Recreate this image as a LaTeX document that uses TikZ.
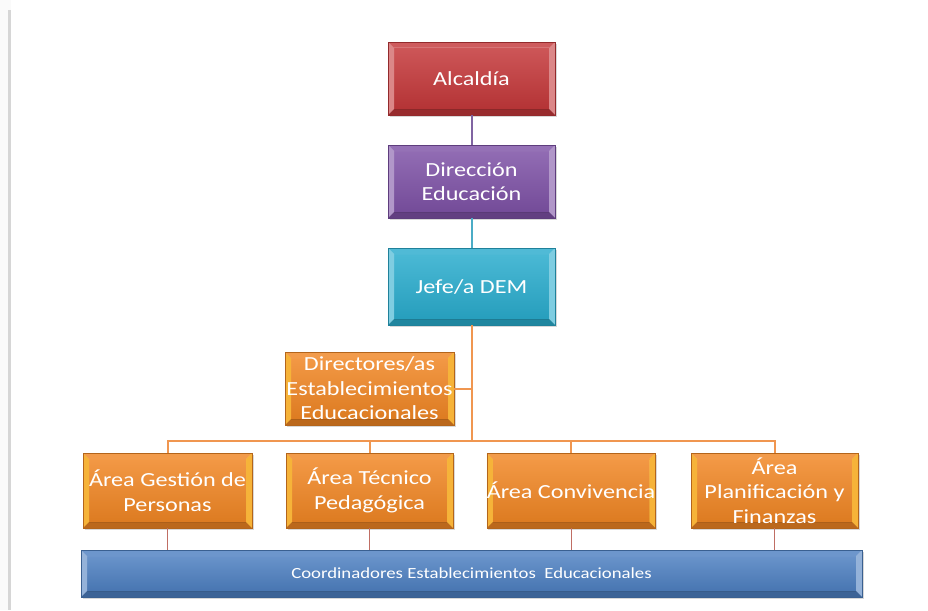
\documentclass[tikz,border=0pt]{standalone}
\usepackage{fontspec}
\setmainfont{Carlito}[FakeStretch=1.21]
\usetikzlibrary{shadows}
\definecolor{cRed}{RGB}{196,56,58}
\definecolor{cPurple}{RGB}{126,82,166}
\definecolor{cCyan}{RGB}{42,172,205}
\definecolor{cOrange}{RGB}{240,134,36}
\definecolor{cBlue}{RGB}{78,128,193}
\definecolor{cLinkPurple}{RGB}{128,100,162}
\definecolor{cLinkCyan}{RGB}{75,172,198}
\definecolor{cLinkOrange}{RGB}{240,150,80}
\definecolor{cLinkRed}{RGB}{192,110,100}
\pgfkeys{/tikz/rim/.store in=\rimcolor, /tikz/rim=white}
\tikzset{
  bevel/.style={
    draw=#1!75!black, line width=0.5pt, fill=#1, inner sep=0pt,
    align=center, text=white,
    drop shadow={shadow xshift=1.5pt, shadow yshift=-2pt, opacity=0.3},
    path picture={
      \path (path picture bounding box.south west) coordinate (pp-sw)
            (path picture bounding box.north east) coordinate (pp-ne)
            (path picture bounding box.north west) coordinate (pp-nw)
            (path picture bounding box.south east) coordinate (pp-se);
      % raised face
      \fill[top color=#1!85!white, bottom color=#1!92!black]
        ([xshift=6pt,yshift=6pt]pp-sw) rectangle ([xshift=-6pt,yshift=-6pt]pp-ne);
      % bevelled edges
      \fill[\rimcolor, opacity=0.4] (pp-sw) -- (pp-nw) -- ([xshift=6pt,yshift=-6pt]pp-nw)
        -- ([xshift=6pt,yshift=6pt]pp-sw) -- cycle;
      \fill[\rimcolor, opacity=0.4] (pp-se) -- (pp-ne) -- ([xshift=-6pt,yshift=-6pt]pp-ne)
        -- ([xshift=-6pt,yshift=6pt]pp-se) -- cycle;
      \fill[white, opacity=0.18] (pp-nw) -- (pp-ne) -- ([xshift=-6pt,yshift=-6pt]pp-ne)
        -- ([xshift=6pt,yshift=-6pt]pp-nw) -- cycle;
      \fill[black, opacity=0.22] (pp-sw) -- (pp-se) -- ([xshift=-6pt,yshift=6pt]pp-se)
        -- ([xshift=6pt,yshift=6pt]pp-sw) -- cycle;
    }},
  areabox/.style={bevel=cOrange, rim=yellow!65!white},
  big/.style={font=\fontsize{20}{24.5}\selectfont},
  small/.style={font=\fontsize{15.5}{18}\selectfont},
  link/.style={line width=2pt, #1},
  drop/.style={line width=1pt, cLinkRed},
}
\begin{document}
\begin{tikzpicture}[x=1pt, y=-1pt]
  \useasboundingbox (0,0) rectangle (928,610);
  \fill[white!98!black] (0,0) rectangle (928,610);
  \fill[white] (11,0) rectangle (928,610);
  % page edge
  \fill[black!16] (8,10) rectangle (11,610);

  % top chain
  \node[bevel=cRed, big, minimum width=167pt, minimum height=73pt] (alc) at (471.5,78.5) {Alcaldía};
  \node[bevel=cPurple, big, minimum width=167pt, minimum height=73pt] (dir) at (471.5,181.5) {Dirección\\Educación};
  \node[bevel=cCyan, big, minimum width=167pt, minimum height=77pt] (jefe) at (471.5,286.5) {Jefe/a DEM};

  % staff box
  \node[areabox, big, minimum width=169pt, minimum height=73pt] (dirs) at (369.5,388.5) {Directores/as\\Establecimientos\\Educacionales};

  % areas
  \node[areabox, big, minimum width=169pt, minimum height=75pt] (a1) at (167.5,490.5) {Área Gestión de\\Personas};
  \node[areabox, big, minimum width=167pt, minimum height=75pt] (a2) at (369.5,490.5) {Área Técnico\\Pedagógica};
  \node[areabox, big, minimum width=168pt, minimum height=75pt] (a3) at (571,490.5) {Área Convivencia};
  \node[areabox, big, minimum width=167pt, minimum height=75pt] (a4) at (774.5,490.5) {Área\\Planificación y\\Finanzas};

  % coordinators bar
  \node[bevel=cBlue, small, minimum width=781pt, minimum height=47pt] (bar) at (471.5,573.5) {Coordinadores Establecimientos\ \ Educacionales};

  % connectors
  \coordinate (bus) at (471.5,441);
  \draw[link=cLinkPurple] (alc) -- (dir);
  \draw[link=cLinkCyan] (dir) -- (jefe);
  \draw[link=cLinkOrange] (jefe) -- (bus);
  \draw[link=cLinkOrange] (dirs.east) -- (dirs.east -| bus);
  \draw[link=cLinkOrange] (a1.north) |- (bus);
  \draw[link=cLinkOrange] (a2.north) |- (bus);
  \draw[link=cLinkOrange] (a3.north) |- (bus);
  \draw[link=cLinkOrange] (a4.north) |- (bus);
  \draw[drop] (a1.south) -- (a1.south |- bar.north);
  \draw[drop] (a2.south) -- (a2.south |- bar.north);
  \draw[drop] (a3.south) -- (a3.south |- bar.north);
  \draw[drop] (a4.south) -- (a4.south |- bar.north);
\end{tikzpicture}
\end{document}
